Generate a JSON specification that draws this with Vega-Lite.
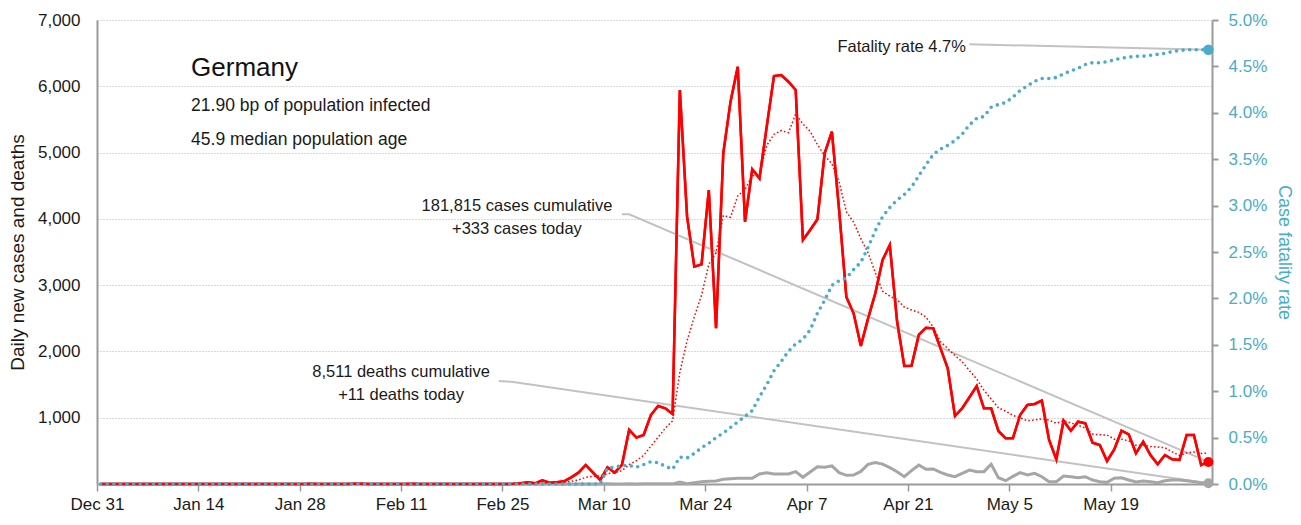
{
  "$schema": "https://vega.github.io/schema/vega-lite/v6.json",
  "width": 1115,
  "height": 464,
  "autosize": {"type": "none"},
  "padding": {"left": 97, "top": 20, "right": 89, "bottom": 41},
  "background": "white",
  "config": {
    "font": "Liberation Sans",
    "view": {"stroke": null},
    "axisX": {
      "title": null,
      "labelExpr": "utcFormat(datum.value, '%b %-d')",
      "labelFlush": false, "labelOverlap": false, "grid": false, "ticks": true,
      "domainColor": "#9a9a9a", "domainWidth": 2,
      "tickColor": "#9a9a9a", "tickWidth": 1.5, "tickSize": 7,
      "labelPadding": 5, "labelFontSize": 17, "labelColor": "#1a1a1a"
    }
  },
  "datasets": {
    "daily": [
      {"date":"2019-12-31","cases":0,"avg":0,"deaths":0,"cfr":0},
      {"date":"2020-01-01","cases":0,"avg":0,"deaths":0,"cfr":0},
      {"date":"2020-01-02","cases":0,"avg":0,"deaths":0,"cfr":0},
      {"date":"2020-01-03","cases":0,"avg":0,"deaths":0,"cfr":0},
      {"date":"2020-01-04","cases":0,"avg":0,"deaths":0,"cfr":0},
      {"date":"2020-01-05","cases":0,"avg":0,"deaths":0,"cfr":0},
      {"date":"2020-01-06","cases":0,"avg":0,"deaths":0,"cfr":0},
      {"date":"2020-01-07","cases":0,"avg":0,"deaths":0,"cfr":0},
      {"date":"2020-01-08","cases":0,"avg":0,"deaths":0,"cfr":0},
      {"date":"2020-01-09","cases":0,"avg":0,"deaths":0,"cfr":0},
      {"date":"2020-01-10","cases":0,"avg":0,"deaths":0,"cfr":0},
      {"date":"2020-01-11","cases":0,"avg":0,"deaths":0,"cfr":0},
      {"date":"2020-01-12","cases":0,"avg":0,"deaths":0,"cfr":0},
      {"date":"2020-01-13","cases":0,"avg":0,"deaths":0,"cfr":0},
      {"date":"2020-01-14","cases":0,"avg":0,"deaths":0,"cfr":0},
      {"date":"2020-01-15","cases":0,"avg":0,"deaths":0,"cfr":0},
      {"date":"2020-01-16","cases":0,"avg":0,"deaths":0,"cfr":0},
      {"date":"2020-01-17","cases":0,"avg":0,"deaths":0,"cfr":0},
      {"date":"2020-01-18","cases":0,"avg":0,"deaths":0,"cfr":0},
      {"date":"2020-01-19","cases":0,"avg":0,"deaths":0,"cfr":0},
      {"date":"2020-01-20","cases":0,"avg":0,"deaths":0,"cfr":0},
      {"date":"2020-01-21","cases":0,"avg":0,"deaths":0,"cfr":0},
      {"date":"2020-01-22","cases":0,"avg":0,"deaths":0,"cfr":0},
      {"date":"2020-01-23","cases":0,"avg":0,"deaths":0,"cfr":0},
      {"date":"2020-01-24","cases":0,"avg":0,"deaths":0,"cfr":0},
      {"date":"2020-01-25","cases":0,"avg":0,"deaths":0,"cfr":0},
      {"date":"2020-01-26","cases":0,"avg":0,"deaths":0,"cfr":0},
      {"date":"2020-01-27","cases":0,"avg":0,"deaths":0,"cfr":0},
      {"date":"2020-01-28","cases":1,"avg":0.1,"deaths":0,"cfr":0},
      {"date":"2020-01-29","cases":3,"avg":0.6,"deaths":0,"cfr":0},
      {"date":"2020-01-30","cases":0,"avg":0.6,"deaths":0,"cfr":0},
      {"date":"2020-01-31","cases":1,"avg":0.7,"deaths":0,"cfr":0},
      {"date":"2020-02-01","cases":1,"avg":0.9,"deaths":0,"cfr":0},
      {"date":"2020-02-02","cases":0,"avg":0.9,"deaths":0,"cfr":0},
      {"date":"2020-02-03","cases":0,"avg":0.9,"deaths":0,"cfr":0},
      {"date":"2020-02-04","cases":4,"avg":1.3,"deaths":0,"cfr":0},
      {"date":"2020-02-05","cases":2,"avg":1.1,"deaths":0,"cfr":0},
      {"date":"2020-02-06","cases":0,"avg":1.1,"deaths":0,"cfr":0},
      {"date":"2020-02-07","cases":1,"avg":1.1,"deaths":0,"cfr":0},
      {"date":"2020-02-08","cases":0,"avg":1.0,"deaths":0,"cfr":0},
      {"date":"2020-02-09","cases":0,"avg":1.0,"deaths":0,"cfr":0},
      {"date":"2020-02-10","cases":0,"avg":1.0,"deaths":0,"cfr":0},
      {"date":"2020-02-11","cases":0,"avg":0.4,"deaths":0,"cfr":0},
      {"date":"2020-02-12","cases":2,"avg":0.4,"deaths":0,"cfr":0},
      {"date":"2020-02-13","cases":1,"avg":0.6,"deaths":0,"cfr":0},
      {"date":"2020-02-14","cases":0,"avg":0.4,"deaths":0,"cfr":0},
      {"date":"2020-02-15","cases":0,"avg":0.4,"deaths":0,"cfr":0},
      {"date":"2020-02-16","cases":0,"avg":0.4,"deaths":0,"cfr":0},
      {"date":"2020-02-17","cases":0,"avg":0.4,"deaths":0,"cfr":0},
      {"date":"2020-02-18","cases":0,"avg":0.4,"deaths":0,"cfr":0},
      {"date":"2020-02-19","cases":0,"avg":0.1,"deaths":0,"cfr":0},
      {"date":"2020-02-20","cases":0,"avg":0,"deaths":0,"cfr":0},
      {"date":"2020-02-21","cases":0,"avg":0,"deaths":0,"cfr":0},
      {"date":"2020-02-22","cases":0,"avg":0,"deaths":0,"cfr":0},
      {"date":"2020-02-23","cases":0,"avg":0,"deaths":0,"cfr":0},
      {"date":"2020-02-24","cases":0,"avg":0,"deaths":0,"cfr":0},
      {"date":"2020-02-25","cases":0,"avg":0,"deaths":0,"cfr":0},
      {"date":"2020-02-26","cases":2,"avg":0.3,"deaths":0,"cfr":0},
      {"date":"2020-02-27","cases":10,"avg":1.7,"deaths":0,"cfr":0},
      {"date":"2020-02-28","cases":26,"avg":5.4,"deaths":0,"cfr":0},
      {"date":"2020-02-29","cases":10,"avg":6.9,"deaths":0,"cfr":0},
      {"date":"2020-03-01","cases":57,"avg":15,"deaths":0,"cfr":0},
      {"date":"2020-03-02","cases":20,"avg":18,"deaths":0,"cfr":0},
      {"date":"2020-03-03","cases":28,"avg":22,"deaths":0,"cfr":0},
      {"date":"2020-03-04","cases":40,"avg":27,"deaths":0,"cfr":0},
      {"date":"2020-03-05","cases":101,"avg":40,"deaths":0,"cfr":0},
      {"date":"2020-03-06","cases":171,"avg":61,"deaths":0,"cfr":0},
      {"date":"2020-03-07","cases":287,"avg":101,"deaths":0,"cfr":0},
      {"date":"2020-03-08","cases":171,"avg":117,"deaths":0,"cfr":0},
      {"date":"2020-03-09","cases":60,"avg":123,"deaths":0,"cfr":0},
      {"date":"2020-03-10","cases":252,"avg":155,"deaths":2,"cfr":0.0017},
      {"date":"2020-03-11","cases":171,"avg":173,"deaths":1,"cfr":0.0018},
      {"date":"2020-03-12","cases":287,"avg":200,"deaths":0,"cfr":0.0020},
      {"date":"2020-03-13","cases":815,"avg":292,"deaths":2,"cfr":0.0020},
      {"date":"2020-03-14","cases":699,"avg":351,"deaths":1,"cfr":0.0018},
      {"date":"2020-03-15","cases":739,"avg":432,"deaths":2,"cfr":0.0021},
      {"date":"2020-03-16","cases":1041,"avg":572,"deaths":3,"cfr":0.0024},
      {"date":"2020-03-17","cases":1177,"avg":704,"deaths":2,"cfr":0.0023},
      {"date":"2020-03-18","cases":1142,"avg":843,"deaths":4,"cfr":0.0019},
      {"date":"2020-03-19","cases":1056,"avg":953,"deaths":2,"cfr":0.0016},
      {"date":"2020-03-20","cases":5944,"avg":1685,"deaths":30,"cfr":0.0029},
      {"date":"2020-03-21","cases":4033,"avg":2162,"deaths":5,"cfr":0.0028},
      {"date":"2020-03-22","cases":3278,"avg":2524,"deaths":20,"cfr":0.0033},
      {"date":"2020-03-23","cases":3314,"avg":2849,"deaths":35,"cfr":0.0039},
      {"date":"2020-03-24","cases":4435,"avg":3315,"deaths":40,"cfr":0.0044},
      {"date":"2020-03-25","cases":2349,"avg":3487,"deaths":45,"cfr":0.0050},
      {"date":"2020-03-26","cases":4989,"avg":4049,"deaths":71,"cfr":0.0055},
      {"date":"2020-03-27","cases":5768,"avg":4024,"deaths":80,"cfr":0.0061},
      {"date":"2020-03-28","cases":6295,"avg":4347,"deaths":86,"cfr":0.0067},
      {"date":"2020-03-29","cases":3957,"avg":4444,"deaths":86,"cfr":0.0073},
      {"date":"2020-03-30","cases":4747,"avg":4649,"deaths":86,"cfr":0.0079},
      {"date":"2020-03-31","cases":4611,"avg":4674,"deaths":151,"cfr":0.0094},
      {"date":"2020-04-01","cases":5391,"avg":5108,"deaths":171,"cfr":0.0107},
      {"date":"2020-04-02","cases":6155,"avg":5275,"deaths":151,"cfr":0.0122},
      {"date":"2020-04-03","cases":6170,"avg":5332,"deaths":151,"cfr":0.0132},
      {"date":"2020-04-04","cases":6069,"avg":5300,"deaths":151,"cfr":0.0143},
      {"date":"2020-04-05","cases":5944,"avg":5584,"deaths":186,"cfr":0.0151},
      {"date":"2020-04-06","cases":3681,"avg":5432,"deaths":101,"cfr":0.0156},
      {"date":"2020-04-07","cases":3832,"avg":5320,"deaths":180,"cfr":0.0166},
      {"date":"2020-04-08","cases":3993,"avg":5121,"deaths":261,"cfr":0.0184},
      {"date":"2020-04-09","cases":4989,"avg":4954,"deaths":252,"cfr":0.0198},
      {"date":"2020-04-10","cases":5315,"avg":4832,"deaths":272,"cfr":0.0214},
      {"date":"2020-04-11","cases":4133,"avg":4555,"deaths":171,"cfr":0.0219},
      {"date":"2020-04-12","cases":2821,"avg":4109,"deaths":131,"cfr":0.0222},
      {"date":"2020-04-13","cases":2575,"avg":3951,"deaths":136,"cfr":0.0231},
      {"date":"2020-04-14","cases":2082,"avg":3701,"deaths":190,"cfr":0.0239},
      {"date":"2020-04-15","cases":2499,"avg":3488,"deaths":297,"cfr":0.0255},
      {"date":"2020-04-16","cases":2877,"avg":3186,"deaths":325,"cfr":0.0273},
      {"date":"2020-04-17","cases":3379,"avg":2909,"deaths":300,"cfr":0.0288},
      {"date":"2020-04-18","cases":3606,"avg":2834,"deaths":246,"cfr":0.0298},
      {"date":"2020-04-19","cases":2458,"avg":2782,"deaths":186,"cfr":0.0306},
      {"date":"2020-04-20","cases":1780,"avg":2669,"deaths":110,"cfr":0.0312},
      {"date":"2020-04-21","cases":1785,"avg":2626,"deaths":201,"cfr":0.0320},
      {"date":"2020-04-22","cases":2248,"avg":2590,"deaths":287,"cfr":0.0332},
      {"date":"2020-04-23","cases":2358,"avg":2516,"deaths":222,"cfr":0.0344},
      {"date":"2020-04-24","cases":2348,"avg":2369,"deaths":227,"cfr":0.0355},
      {"date":"2020-04-25","cases":2047,"avg":2146,"deaths":176,"cfr":0.0361},
      {"date":"2020-04-26","cases":1745,"avg":2044,"deaths":136,"cfr":0.0365},
      {"date":"2020-04-27","cases":1026,"avg":1937,"deaths":110,"cfr":0.0370},
      {"date":"2020-04-28","cases":1142,"avg":1845,"deaths":161,"cfr":0.0377},
      {"date":"2020-04-29","cases":1308,"avg":1711,"deaths":211,"cfr":0.0387},
      {"date":"2020-04-30","cases":1478,"avg":1585,"deaths":186,"cfr":0.0394},
      {"date":"2020-05-01","cases":1142,"avg":1413,"deaths":186,"cfr":0.0396},
      {"date":"2020-05-02","cases":1142,"avg":1283,"deaths":297,"cfr":0.0406},
      {"date":"2020-05-03","cases":800,"avg":1148,"deaths":95,"cfr":0.0409},
      {"date":"2020-05-04","cases":689,"avg":1100,"deaths":50,"cfr":0.0411},
      {"date":"2020-05-05","cases":689,"avg":1035,"deaths":115,"cfr":0.0417},
      {"date":"2020-05-06","cases":1041,"avg":997,"deaths":171,"cfr":0.0424},
      {"date":"2020-05-07","cases":1192,"avg":956,"deaths":136,"cfr":0.0429},
      {"date":"2020-05-08","cases":1207,"avg":966,"deaths":161,"cfr":0.0434},
      {"date":"2020-05-09","cases":1257,"avg":982,"deaths":110,"cfr":0.0437},
      {"date":"2020-05-10","cases":664,"avg":963,"deaths":35,"cfr":0.0437},
      {"date":"2020-05-11","cases":372,"avg":917,"deaths":35,"cfr":0.0438},
      {"date":"2020-05-12","cases":955,"avg":955,"deaths":121,"cfr":0.0442},
      {"date":"2020-05-13","cases":804,"avg":922,"deaths":110,"cfr":0.0445},
      {"date":"2020-05-14","cases":940,"avg":886,"deaths":95,"cfr":0.0448},
      {"date":"2020-05-15","cases":915,"avg":844,"deaths":110,"cfr":0.0452},
      {"date":"2020-05-16","cases":624,"avg":753,"deaths":60,"cfr":0.0454},
      {"date":"2020-05-17","cases":588,"avg":743,"deaths":35,"cfr":0.0454},
      {"date":"2020-05-18","cases":347,"avg":739,"deaths":25,"cfr":0.0455},
      {"date":"2020-05-19","cases":523,"avg":677,"deaths":86,"cfr":0.0457},
      {"date":"2020-05-20","cases":804,"avg":677,"deaths":95,"cfr":0.0459},
      {"date":"2020-05-21","cases":749,"avg":650,"deaths":60,"cfr":0.0460},
      {"date":"2020-05-22","cases":463,"avg":585,"deaths":30,"cfr":0.0461},
      {"date":"2020-05-23","cases":638,"avg":587,"deaths":45,"cfr":0.0461},
      {"date":"2020-05-24","cases":437,"avg":566,"deaths":35,"cfr":0.0462},
      {"date":"2020-05-25","cases":297,"avg":559,"deaths":20,"cfr":0.0463},
      {"date":"2020-05-26","cases":437,"avg":546,"deaths":50,"cfr":0.0464},
      {"date":"2020-05-27","cases":372,"avg":485,"deaths":60,"cfr":0.0466},
      {"date":"2020-05-28","cases":362,"avg":429,"deaths":60,"cfr":0.0467},
      {"date":"2020-05-29","cases":739,"avg":469,"deaths":50,"cfr":0.0468},
      {"date":"2020-05-30","cases":739,"avg":483,"deaths":35,"cfr":0.0468},
      {"date":"2020-05-31","cases":287,"avg":462,"deaths":20,"cfr":0.0468},
      {"date":"2020-06-01","cases":333,"avg":467,"deaths":11,"cfr":0.0468}
    ]
  },
  "layer": [
    {
      "data": {"name": "daily"},
      "mark": {"type":"line","color":"#ff0000","strokeWidth":2.5},
      "encoding": {
        "x": {"field":"date","timeUnit":"utcyearmonthdate","type":"temporal","bandPosition":0.5,"scale":{"domain":[1577750400000,1591056000000],"nice":false},"axis":{"values":[1577750400000,1578960000000,1580169600000,1581379200000,1582588800000,1583798400000,1585008000000,1586217600000,1587427200000,1588636800000,1589846400000]}},
        "y": {"field":"cases","type":"quantitative","scale":{"domain":[0,7000],"nice":false},
          "axis":{"title":"Daily new cases and deaths","values":[1000,2000,3000,4000,5000,6000,7000],"format":",.0f",
            "grid":true,"gridDash":[1,2],"gridColor":"#b3b3b3","gridWidth":1,
            "ticks":false,"labelPadding":17,"domainColor":"#9a9a9a","domainWidth":2,
            "labelFontSize":17,"labelColor":"#1a1a1a",
            "titleFontSize":19,"titleFontWeight":"normal","titleColor":"#1a1a1a","titlePadding":10}
        }
      }
    },
    {
      "data": {"values": [
        {"grp":"f","date":"2020-04-29","value":6633},
        {"grp":"f","date":"2020-06-01","value":6552},
        {"grp":"c","date":"2020-03-12","value":4069},
        {"grp":"c","date":"2020-03-13","value":4069},
        {"grp":"c","date":"2020-06-01","value":333},
        {"grp":"d","date":"2020-02-24","value":1554},
        {"grp":"d","date":"2020-02-26","value":1539},
        {"grp":"d","date":"2020-06-01","value":11}
      ]},
      "mark": {"type":"line","color":"#c2c2c2","strokeWidth":2},
      "encoding": {
        "x": {"field":"date","timeUnit":"utcyearmonthdate","type":"temporal","bandPosition":0.5,"scale":{"domain":[1577750400000,1591056000000],"nice":false},"axis":{"values":[1577750400000,1578960000000,1580169600000,1581379200000,1582588800000,1583798400000,1585008000000,1586217600000,1587427200000,1588636800000,1589846400000]}},
        "y": {"field":"value","type":"quantitative","scale":{"domain":[0,7000],"nice":false},"axis":null},
        "detail": {"field":"grp"}
      }
    },
    {
      "data": {"values": [{"date":"2020-01-13","value":6155,"text":"Germany"}]},
      "mark": {"type":"text","align":"left","baseline":"alphabetic","fontSize":26,"color":"#111111"},
      "encoding": {
        "x": {"field":"date","timeUnit":"utcyearmonthdate","type":"temporal","scale":{"domain":[1577750400000,1591056000000],"nice":false},"axis":{"values":[1577750400000,1578960000000,1580169600000,1581379200000,1582588800000,1583798400000,1585008000000,1586217600000,1587427200000,1588636800000,1589846400000]}},
        "y": {"field":"value","type":"quantitative","scale":{"domain":[0,7000],"nice":false},"axis":null},
        "text": {"field":"text"}
      }
    },
    {
      "data": {"values": [
        {"date":"2020-01-13","value":5627,"text":"21.90 bp of population infected"},
        {"date":"2020-01-13","value":5110,"text":"45.9 median population age"}
      ]},
      "mark": {"type":"text","align":"left","baseline":"alphabetic","fontSize":17.5,"color":"#1a1a1a"},
      "encoding": {
        "x": {"field":"date","timeUnit":"utcyearmonthdate","type":"temporal","scale":{"domain":[1577750400000,1591056000000],"nice":false},"axis":{"values":[1577750400000,1578960000000,1580169600000,1581379200000,1582588800000,1583798400000,1585008000000,1586217600000,1587427200000,1588636800000,1589846400000]}},
        "y": {"field":"value","type":"quantitative","scale":{"domain":[0,7000],"nice":false},"axis":null},
        "text": {"field":"text"}
      }
    },
    {
      "data": {"values": [
        {"date":"2020-02-27","value":4118,"text":"181,815 cases cumulative"},
        {"date":"2020-02-27","value":3767,"text":"+333 cases today"},
        {"date":"2020-02-11","value":1619,"text":"8,511 deaths cumulative"},
        {"date":"2020-02-11","value":1267,"text":"+11 deaths today"}
      ]},
      "mark": {"type":"text","align":"center","baseline":"alphabetic","fontSize":16.5,"color":"#1a1a1a"},
      "encoding": {
        "x": {"field":"date","timeUnit":"utcyearmonthdate","type":"temporal","scale":{"domain":[1577750400000,1591056000000],"nice":false},"axis":{"values":[1577750400000,1578960000000,1580169600000,1581379200000,1582588800000,1583798400000,1585008000000,1586217600000,1587427200000,1588636800000,1589846400000]}},
        "y": {"field":"value","type":"quantitative","scale":{"domain":[0,7000],"nice":false},"axis":null},
        "text": {"field":"text"}
      }
    },
    {
      "data": {"values": [{"date":"2020-04-29","value":6522,"text":"Fatality rate 4.7%"}]},
      "mark": {"type":"text","align":"right","baseline":"alphabetic","fontSize":16.5,"color":"#1a1a1a"},
      "encoding": {
        "x": {"field":"date","timeUnit":"utcyearmonthdate","type":"temporal","scale":{"domain":[1577750400000,1591056000000],"nice":false},"axis":{"values":[1577750400000,1578960000000,1580169600000,1581379200000,1582588800000,1583798400000,1585008000000,1586217600000,1587427200000,1588636800000,1589846400000]}},
        "y": {"field":"value","type":"quantitative","scale":{"domain":[0,7000],"nice":false},"axis":null},
        "text": {"field":"text"}
      }
    },
    {
      "data": {"name": "daily"},
      "mark": {"type":"line","color":"#a6a6a6","strokeWidth":3},
      "encoding": {
        "x": {"field":"date","timeUnit":"utcyearmonthdate","type":"temporal","bandPosition":0.5,"scale":{"domain":[1577750400000,1591056000000],"nice":false},"axis":{"values":[1577750400000,1578960000000,1580169600000,1581379200000,1582588800000,1583798400000,1585008000000,1586217600000,1587427200000,1588636800000,1589846400000]}},
        "y": {"field":"deaths","type":"quantitative","scale":{"domain":[0,7000],"nice":false},"axis":null}
      }
    },
    {
      "data": {"name": "daily"},
      "mark": {"type":"line","color":"#ff0000","strokeWidth":1.5,"strokeDash":[1.6,2.2]},
      "encoding": {
        "x": {"field":"date","timeUnit":"utcyearmonthdate","type":"temporal","bandPosition":0.5,"scale":{"domain":[1577750400000,1591056000000],"nice":false},"axis":{"values":[1577750400000,1578960000000,1580169600000,1581379200000,1582588800000,1583798400000,1585008000000,1586217600000,1587427200000,1588636800000,1589846400000]}},
        "y": {"field":"avg","type":"quantitative","scale":{"domain":[0,7000],"nice":false},"axis":null}
      }
    },
    {
      "data": {"name": "daily"},
      "mark": {"type":"line","color":"#ff0000","strokeWidth":2.5},
      "encoding": {
        "x": {"field":"date","timeUnit":"utcyearmonthdate","type":"temporal","bandPosition":0.5,"scale":{"domain":[1577750400000,1591056000000],"nice":false},"axis":{"values":[1577750400000,1578960000000,1580169600000,1581379200000,1582588800000,1583798400000,1585008000000,1586217600000,1587427200000,1588636800000,1589846400000]}},
        "y": {"field":"cases","type":"quantitative","scale":{"domain":[0,7000],"nice":false},"axis":null}
      }
    },
    {
      "data": {"values": [
        {"date":"2020-06-01","value":333,"series":"cases"},
        {"date":"2020-06-01","value":11,"series":"deaths"}
      ]},
      "mark": {"type":"point","filled":true,"opacity":1,"size":100},
      "encoding": {
        "x": {"field":"date","timeUnit":"utcyearmonthdate","type":"temporal","bandPosition":0.5,"scale":{"domain":[1577750400000,1591056000000],"nice":false},"axis":{"values":[1577750400000,1578960000000,1580169600000,1581379200000,1582588800000,1583798400000,1585008000000,1586217600000,1587427200000,1588636800000,1589846400000]}},
        "y": {"field":"value","type":"quantitative","scale":{"domain":[0,7000],"nice":false},"axis":null},
        "color": {"field":"series","type":"nominal","scale":{"domain":["cases","deaths"],"range":["#ff0000","#a6a6a6"]},"legend":null}
      }
    },
    {
      "data": {"name": "daily"},
      "mark": {"type":"line","color":"#4aacc8","strokeWidth":3.6,"strokeCap":"round","strokeDash":[0,6.6]},
      "encoding": {
        "x": {"field":"date","timeUnit":"utcyearmonthdate","type":"temporal","bandPosition":0.5,"scale":{"domain":[1577750400000,1591056000000],"nice":false},"axis":{"values":[1577750400000,1578960000000,1580169600000,1581379200000,1582588800000,1583798400000,1585008000000,1586217600000,1587427200000,1588636800000,1589846400000]}},
        "y": {"field":"cfr","type":"quantitative","scale":{"domain":[0,0.05],"nice":false},
          "axis":{"orient":"right","title":"Case fatality rate","values":[0,0.005,0.01,0.015,0.02,0.025,0.03,0.035,0.04,0.045,0.05],"format":".1%",
            "grid":false,"domainColor":"#9a9a9a","domainWidth":2,
            "tickColor":"#9a9a9a","tickWidth":2,"tickSize":6,"labelPadding":10,
            "labelColor":"#4aacc8","labelFontSize":17,
            "titleColor":"#4aacc8","titleFontSize":18,"titleFontWeight":"normal","titlePadding":8}
        }
      }
    },
    {
      "data": {"values": [{"date":"2020-06-01","cfr":0.0468}]},
      "mark": {"type":"point","filled":true,"opacity":1,"size":110,"color":"#4aacc8"},
      "encoding": {
        "x": {"field":"date","timeUnit":"utcyearmonthdate","type":"temporal","bandPosition":0.5,"scale":{"domain":[1577750400000,1591056000000],"nice":false},"axis":{"values":[1577750400000,1578960000000,1580169600000,1581379200000,1582588800000,1583798400000,1585008000000,1586217600000,1587427200000,1588636800000,1589846400000]}},
        "y": {"field":"cfr","type":"quantitative","scale":{"domain":[0,0.05],"nice":false},"axis":null}
      }
    }
  ],
  "resolve": {"scale": {"y": "independent"}}
}
